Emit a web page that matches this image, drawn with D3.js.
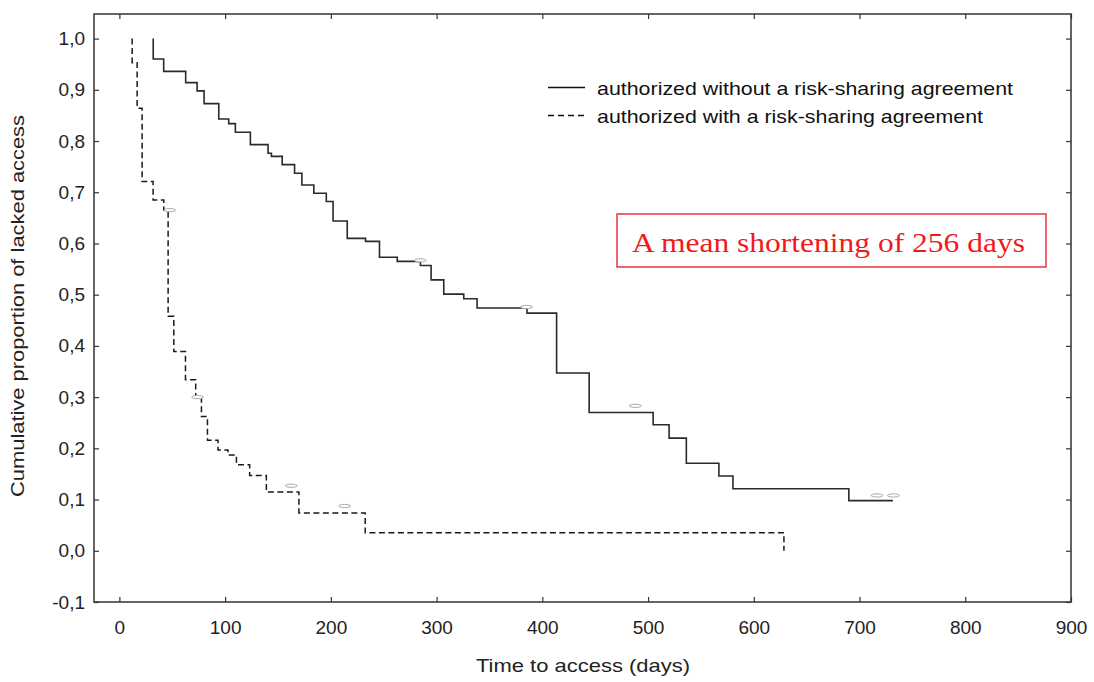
<!DOCTYPE html>
<html>
<head>
<meta charset="utf-8">
<script src="https://cdn.jsdelivr.net/npm/d3@7"></script>
<style>
  html, body { margin: 0; padding: 0; background: #fff; }
  svg { display: block; }
  text { font-family: Arial, "Liberation Sans", sans-serif; }
  text.serif { font-family: "Liberation Serif", "Times New Roman", serif; }
</style>
</head>
<body>
<svg id="chart" width="1094" height="682"></svg>
<script>
// ---- Data ----
// Series 1: authorized without a risk-sharing agreement (solid)
const solidStartTime = 32;
const solidTimes  = [32, 41.9, 62.7, 73.5, 80.1, 94, 103.4, 109.7, 123.9, 140.6, 143.8, 154, 165.7, 172.6, 183.9, 195.7, 202.1, 215.5, 232.8, 246, 262.8, 284.7, 294.8, 306.8, 325.7, 338.3, 385.5, 413.5, 444.3, 504.8, 519.9, 536.2, 567, 580.3, 689.9];
const solidValues = [0.96, 0.936, 0.914, 0.898, 0.873, 0.843, 0.834, 0.817, 0.793, 0.776, 0.770, 0.754, 0.737, 0.714, 0.698, 0.682, 0.644, 0.610, 0.604, 0.573, 0.565, 0.557, 0.529, 0.501, 0.492, 0.474, 0.464, 0.347, 0.270, 0.246, 0.220, 0.171, 0.146, 0.121, 0.098];
const solidEndTime = 731.6;
const solidCensorTimes  = [284.7, 385, 488, 716.5, 732];
const solidCensorValues = [0.567, 0.476, 0.283, 0.108, 0.108];

// Series 2: authorized with a risk-sharing agreement (dashed)
const dashedStartTime = 12.1;
const dashedTimes  = [12.1, 16.8, 21.5, 31.9, 42.0, 46.1, 51.5, 62.5, 72.2, 77.6, 83.3, 93.3, 102.7, 110.7, 123.2, 139.0, 169.8, 232.5, 628.5];
const dashedValues = [0.953, 0.864, 0.721, 0.685, 0.665, 0.458, 0.389, 0.334, 0.300, 0.262, 0.216, 0.197, 0.187, 0.168, 0.147, 0.115, 0.074, 0.035, 0.0];
const dashedCensorTimes  = [47.7, 74, 162.6, 213];
const dashedCensorValues = [0.665, 0.300, 0.127, 0.0875];

// Ticks
const xTicks = [0, 100, 200, 300, 400, 500, 600, 700, 800, 900];
const xTickLabels = ["0", "100", "200", "300", "400", "500", "600", "700", "800", "900"];
const yTicks = [-0.1, 0.0, 0.1, 0.2, 0.3, 0.4, 0.5, 0.6, 0.7, 0.8, 0.9, 1.0];
const yTickLabels = ["-0,1", "0,0", "0,1", "0,2", "0,3", "0,4", "0,5", "0,6", "0,7", "0,8", "0,9", "1,0"];

// Texts
const xTitle = "Time to access (days)";
const yTitle = "Cumulative proportion of lacked access";
const legendLabels = ["authorized without a risk-sharing agreement", "authorized with a risk-sharing agreement"];
const annotation = "A mean shortening of 256 days";

// ---- Layout ----
const svg = d3.select("#chart");
const plotL = 94, plotR = 1071, plotT = 14, plotB = 602;
const x = d3.scaleLinear().domain([-24, 900]).range([plotL, plotR]);
const y = d3.scaleLinear().domain([-0.1, 1.048]).range([plotB, plotT]);

const ink = "#222";

// Frame
svg.append("rect")
  .attr("x", plotL).attr("y", plotT)
  .attr("width", plotR - plotL).attr("height", plotB - plotT)
  .attr("fill", "none").attr("stroke", "#333").attr("stroke-width", 1.5);

function styleAxis(g) {
  g.select(".domain").remove();
  g.selectAll(".tick line").attr("stroke", "#333").attr("stroke-width", 1.2);
  g.selectAll(".tick text").attr("fill", ink).attr("font-size", 19);
}

const yLab = new Map(yTicks.map((v, i) => [v, yTickLabels[i]]));
const xLab = new Map(xTicks.map((v, i) => [v, xTickLabels[i]]));

svg.append("g").attr("transform", `translate(0,${plotB})`)
  .call(d3.axisBottom(x).tickValues(xTicks).tickFormat(d => xLab.get(d))
    .tickSizeInner(-5).tickSizeOuter(0).tickPadding(19))
  .call(styleAxis);
svg.append("g").attr("transform", `translate(0,${plotT})`)
  .call(d3.axisTop(x).tickValues(xTicks).tickFormat("")
    .tickSizeInner(-5).tickSizeOuter(0))
  .call(styleAxis);
svg.append("g").attr("transform", `translate(${plotL},0)`)
  .call(d3.axisLeft(y).tickValues(yTicks).tickFormat(d => yLab.get(d))
    .tickSizeInner(-5).tickSizeOuter(0).tickPadding(9))
  .call(styleAxis);
svg.append("g").attr("transform", `translate(${plotR},0)`)
  .call(d3.axisRight(y).tickValues(yTicks).tickFormat("")
    .tickSizeInner(-5).tickSizeOuter(0))
  .call(styleAxis);

// Axis titles
svg.append("text")
  .attr("x", 583).attr("y", 672)
  .attr("text-anchor", "middle").attr("font-size", 19).attr("fill", ink)
  .attr("textLength", 214).attr("lengthAdjust", "spacingAndGlyphs")
  .text(xTitle);
svg.append("text")
  .attr("transform", "translate(24,306) rotate(-90)")
  .attr("text-anchor", "middle").attr("font-size", 19).attr("fill", ink)
  .attr("textLength", 382).attr("lengthAdjust", "spacingAndGlyphs")
  .text(yTitle);

// Step curves
const line = d3.line().x(d => x(d[0])).y(d => y(d[1])).curve(d3.curveStepAfter);

const solidPts = [[solidStartTime, 1.0]].concat(solidTimes.map((t, i) => [t, solidValues[i]]));
solidPts.push([solidEndTime, solidValues[solidValues.length - 1]]);
const dashedPts = [[dashedStartTime, 1.0]].concat(dashedTimes.map((t, i) => [t, dashedValues[i]]));

svg.append("path").datum(solidPts)
  .attr("d", line).attr("fill", "none")
  .attr("stroke", "#2a2a2a").attr("stroke-width", 1.6);
svg.append("path").datum(dashedPts)
  .attr("d", line).attr("fill", "none")
  .attr("stroke", "#1a1a1a").attr("stroke-width", 1.5)
  .attr("stroke-dasharray", "6,3.5");

// Censor marks
const censors = solidCensorTimes.map((t, i) => [t, solidCensorValues[i]])
  .concat(dashedCensorTimes.map((t, i) => [t, dashedCensorValues[i]]));
svg.append("g").selectAll("ellipse").data(censors).join("ellipse")
  .attr("cx", d => x(d[0])).attr("cy", d => y(d[1]))
  .attr("rx", 6).attr("ry", 1.6)
  .attr("fill", "#fff").attr("stroke", "#aaa").attr("stroke-width", 1);

// Legend
const leg = svg.append("g");
[0, 1].forEach(i => {
  const ly = 87.5 + i * 28;
  leg.append("line")
    .attr("x1", 548).attr("x2", 585).attr("y1", ly).attr("y2", ly)
    .attr("stroke", "#111").attr("stroke-width", 1.3)
    .attr("stroke-dasharray", i === 1 ? "6,4" : null);
  leg.append("text")
    .attr("x", 597).attr("y", ly + 7.5)
    .attr("font-size", 19).attr("fill", "#111")
    .attr("textLength", i === 0 ? 416 : 386).attr("lengthAdjust", "spacingAndGlyphs")
    .text(legendLabels[i]);
});

// Annotation box
svg.append("rect")
  .attr("x", 617).attr("y", 214).attr("width", 429).attr("height", 53)
  .attr("fill", "#fff").attr("stroke", "#e8141c").attr("stroke-width", 1.3);
svg.append("text")
  .attr("class", "serif")
  .attr("x", 632).attr("y", 252)
  .attr("font-size", 28).attr("fill", "#f01a1a")
  .attr("textLength", 393).attr("lengthAdjust", "spacingAndGlyphs")
  .text(annotation);
</script>
</body>
</html>
